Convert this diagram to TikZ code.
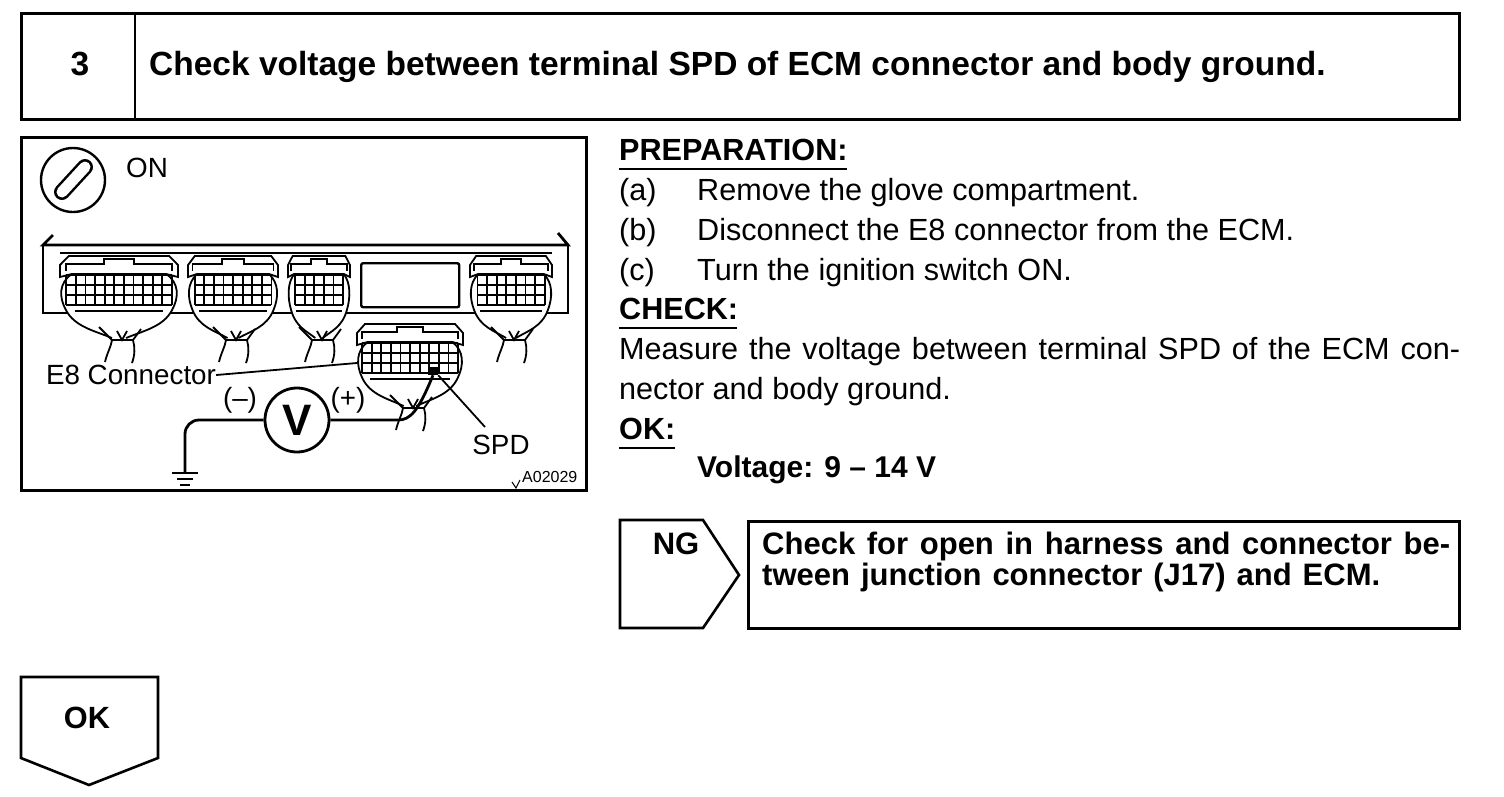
\documentclass[tikz,border=0pt]{standalone}
\usepackage{fontspec}
\setmainfont{Liberation Sans}
\newcommand{\ecmconn}[4]{
  \begin{scope}[shift={(#1,#2)},xscale=#3]
    \draw[fine,fill=white] (-.12,83) .. controls (-.4,76) and (-.75,72) .. (-.9,55)
      .. controls (-1.02,42) and (-1.02,28) .. (-.8,19) -- (.8,19)
      .. controls (1.02,28) and (1.02,42) .. (.9,55)
      .. controls (.75,72) and (.4,76) .. (.12,83);
    \draw[fine,fill=white] (-1,22) -- (-1,10) -- (-.85,1) -- (.85,1) -- (1,10) -- (1,22) -- (.8,19) -- (-.8,19) -- cycle;
    \draw[fine] (-.9,16) -- (-.9,9) -- (-.25,9) -- (-.25,4) -- (.25,4) -- (.25,9) -- (.9,9) -- (.9,16);
    \draw[wire] (-.75,56) -- (.75,56);
  \end{scope}
  \begin{scope}[shift={(#1,#2)}]
    \foreach \c in {0,...,#4}
      \draw[fine] ({\c*9.6-#4*4.8},20) -- ++(0,30);
    \foreach \r in {20,30,40,50}
      \draw[fine] ({-#4*4.8},\r) -- ({#4*4.8},\r);
    \draw[fine] (-14,107) .. controls (-12,98) and (-8,92) .. (-7,85) -- (14,85)
      .. controls (16,92) and (16,100) .. (13,108);
    \draw[fine] (-20,72) -- (-7,85);
    \draw[fine] (-2,76) -- (3,85) -- (8,76);
    \draw[fine] (22,74) -- (14,85);
  \end{scope}
}
\begin{document}
\begin{tikzpicture}[
  x=1pt,y=-1pt,
  frame/.style={draw,line width=2.6pt,inner sep=0pt},
  fine/.style={draw,line width=1.8pt},
  wire/.style={draw,line width=2.8pt},
  titletext/.style={font=\fontsize{33.5}{33.5}\bfseries\selectfont,inner sep=0pt},
  bodytext/.style={font=\fontsize{30.6}{30.6}\selectfont,anchor=base west,inner sep=0pt},
  headtext/.style={font=\fontsize{30.6}{30.6}\bfseries\selectfont,anchor=base west,inner sep=0pt},
  figtext/.style={font=\fontsize{27.8}{27.8}\selectfont,inner sep=0pt}
]
\useasboundingbox (0,0) rectangle (1504,796);

\node[frame,minimum width=1438pt,minimum height=106pt,anchor=north west] (titlebox) at (20,12) {};
\coordinate (divtop) at (135,12);
\coordinate (divbot) at (135,119);
\draw[frame] (divtop) -- (divbot);
\node[titletext] (stepno) at (80,64) {3};
\node[titletext,anchor=west] (title) at (149,67) {Check voltage between terminal SPD of ECM connector and body ground.};

\node[frame,minimum width=565pt,minimum height=353pt,anchor=north west] (figbox) at (20,136) {};
\node[draw,circle,line width=2.4pt,minimum size=64pt,inner sep=0pt] (ign) at (73,180) {};
\draw[line width=16pt,line cap=round] (62,192) -- (85,167);
\draw[line width=11pt,line cap=round,white] (62,192) -- (85,167);
\node[figtext] (on) at (147,168) {ON};

% ECM body
\draw[wire] (53,235) -- (43,245) -- (568,245) -- (558,233);
\draw[fine] (43,245) -- (43,313) -- (568,313) -- (568,245);
\draw[fine] (60,253) -- (552,253);
\node[draw,rounded corners=2pt,line width=2.4pt,minimum width=98pt,minimum height=44pt,anchor=north west] (display) at (360,262) {};

\ecmconn{119}{255}{59}{11}
\ecmconn{233}{255}{45}{8}
\ecmconn{319}{255}{31}{5}
\ecmconn{511}{255}{41}{7}
\ecmconn{410}{323}{53}{10}

\node[fill=black,minimum width=10pt,minimum height=8pt,inner sep=0pt] (spdpin) at (433,371) {};
\node[figtext] (e8) at (131,375) {E8 Connector};
\coordinate (e8end) at (357,363);
\draw[fine] (e8.east) -- (e8end);

\node[draw,circle,line width=2.8pt,minimum size=64pt,inner sep=0pt,font=\fontsize{44}{44}\bfseries\selectfont] (volt) at (297,420) {V};
\node[figtext] (minus) at (240,400) {(--)};
\node[figtext] (plus) at (348,400) {(+)};
\coordinate (gnd) at (185,473);
\draw[wire,rounded corners=14pt] (volt.west) -- (185,420) -- (gnd);
\draw[wire] (volt.east) -- (398,420) .. controls (410,420) and (418,412) .. (spdpin.south);
\draw[line width=2pt] (172,473) -- (198,473);
\draw[line width=2pt] (177,479) -- (193,479);
\draw[line width=2pt] (180,485) -- (190,485);

\node[figtext] (spd) at (501,445) {SPD};
\coordinate (spdend) at (485,427);
\draw[fine] (spdpin.south east) -- (spdend);
\node[font=\fontsize{16}{16}\selectfont,inner sep=0pt,anchor=west] (figno) at (522,477) {A02029};
\draw[line width=1pt] (512,482) -- (516,488) -- (520,480);

% right column
\node[headtext] (prep) at (619,160) {PREPARATION:};
\draw[fine] (prep.base west) ++(0,9) -- ++(228,0);
\node[bodytext] (ia) at (619,200) {(a)};
\node[bodytext] (ta) at (697,200) {Remove the glove compartment.};
\node[bodytext] (ib) at (619,240) {(b)};
\node[bodytext] (tb) at (697,240) {Disconnect the E8 connector from the ECM.};
\node[bodytext] (ic) at (619,280) {(c)};
\node[bodytext] (tc) at (697,280) {Turn the ignition switch ON.};
\node[headtext] (check) at (619,319) {CHECK:};
\draw[fine] (check.base west) ++(0,9) -- ++(118,0);
\node[bodytext] (meas1) at (619,359) {\makebox[841pt][s]{Measure the voltage between terminal SPD of the ECM con-}};
\node[bodytext] (meas2) at (619,399) {nector and body ground.};
\node[headtext] (okhead) at (619,439) {OK:};
\draw[fine] (okhead.base west) ++(0,9) -- ++(56,0);
\node[headtext,font=\fontsize{30}{30}\bfseries\selectfont] (volts) at (697,477) {Voltage: 9 -- 14 V};

% NG branch
\draw[frame] (620,520) -- (703,520) -- (739,575) -- (703,628) -- (620,628) -- cycle;
\node[titletext,font=\fontsize{31}{31}\bfseries\selectfont] (ng) at (676,544) {NG};
\node[frame,minimum width=711pt,minimum height=107pt,anchor=north west] (ngbox) at (747,520) {};
\node[headtext,font=\fontsize{31}{31}\bfseries\selectfont] (ng1) at (762,554) {\makebox[688pt][s]{Check for open in harness and connector be-}};
\node[headtext,font=\fontsize{31}{31}\bfseries\selectfont] (ng2) at (762,585) {\makebox[618pt][s]{tween junction connector (J17) and ECM.}};

% OK branch
\draw[frame] (21,677) -- (158,677) -- (158,758) -- (89,785) -- (21,758) -- cycle;
\node[titletext,font=\fontsize{30.7}{30.7}\bfseries\selectfont] (ok) at (87,718) {OK};
\end{tikzpicture}
\end{document}
